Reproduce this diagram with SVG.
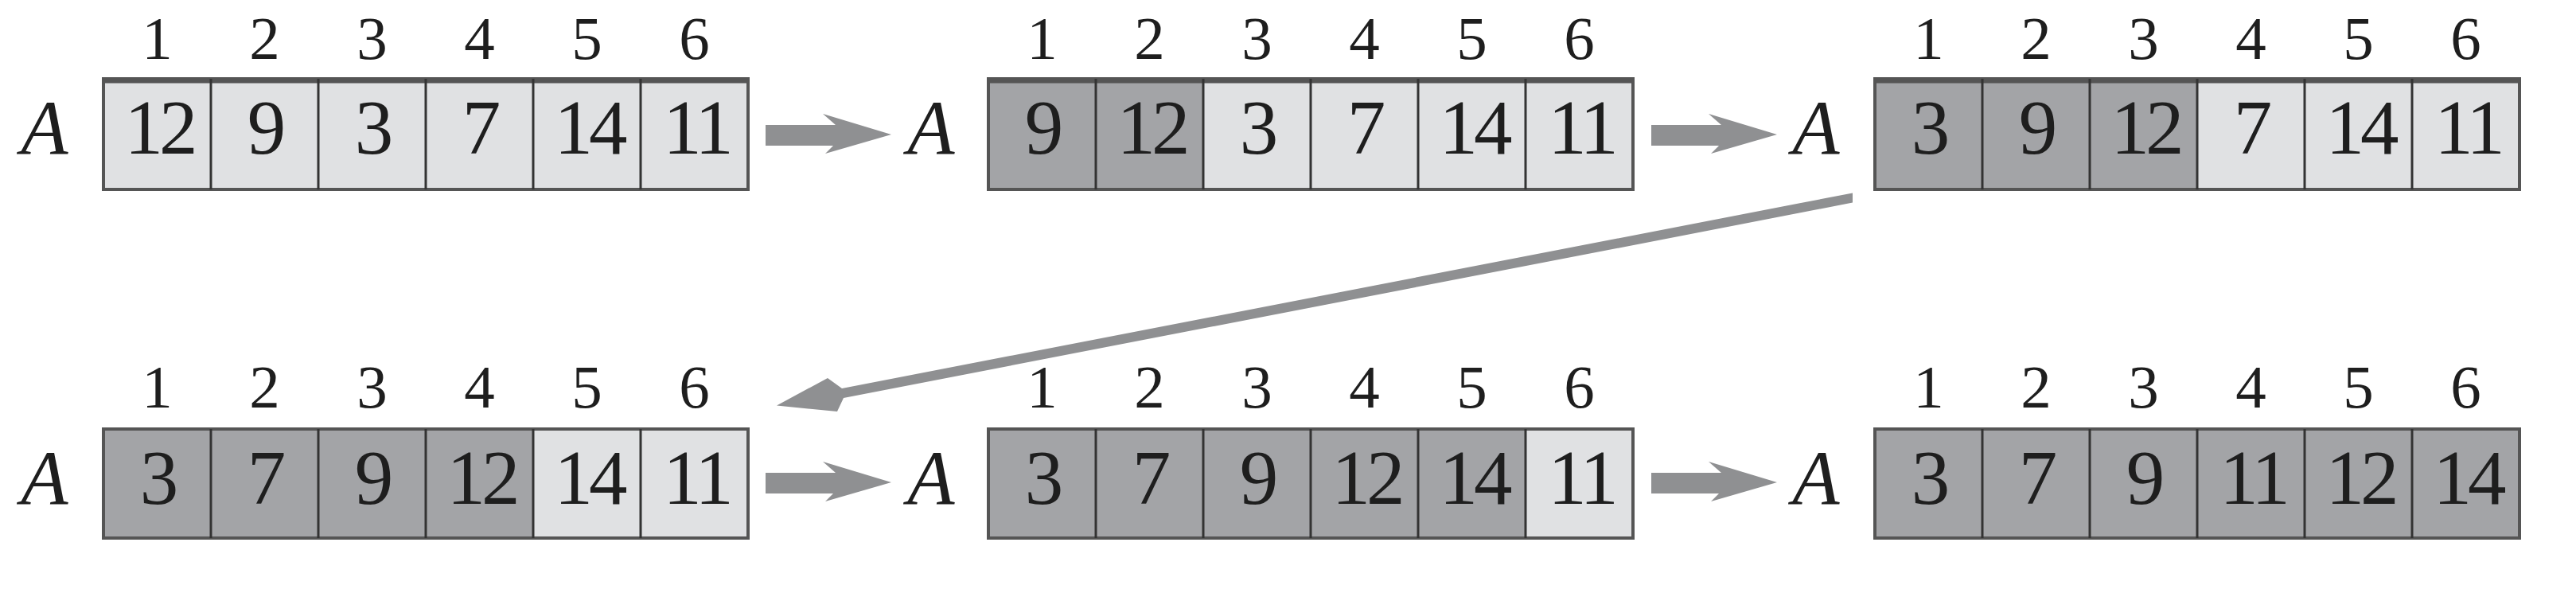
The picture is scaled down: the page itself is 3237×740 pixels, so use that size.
<svg xmlns="http://www.w3.org/2000/svg" width="3237" height="740" viewBox="0 0 3237 740">
<style>
.lt{fill:#e0e1e3}
.dk{fill:#a3a4a7}
.frame{fill:none;stroke:#555;stroke-width:4}
.div{stroke:#333;stroke-width:3}
.topb{stroke:#555;stroke-width:7}
.idx{font-size:77px;fill:#1e1e1e;text-anchor:middle}
.val{font-size:97px;fill:#1e1e1e;text-anchor:middle;letter-spacing:-5px}
.nm{font-size:97px;font-style:italic;fill:#1e1e1e;text-anchor:middle}
.arr{fill:#8f9092}
</style>
<defs>
<path id="harrow" class="arr" d="M0,-13 L88,-13 L72,-27 L158,-1 L75,23 L85,13 L0,13 Z"/>
</defs>
<rect width="3237" height="740" fill="#ffffff"/>
<g font-family="Liberation Serif, Times New Roman, serif">
<g id="array1">
<rect class="lt" x="130" y="99" width="810" height="139"/>
<rect class="frame" x="130" y="99" width="810" height="139"/>
<line class="topb" x1="130" y1="101" x2="940" y2="101"/>
<g class="div"><line x1="265" y1="99" x2="265" y2="238"/><line x1="400" y1="99" x2="400" y2="238"/><line x1="535" y1="99" x2="535" y2="238"/><line x1="670" y1="99" x2="670" y2="238"/><line x1="805" y1="99" x2="805" y2="238"/></g>
<text class="nm" x="56" y="193">A</text>
<text class="idx" x="197.5" y="74">1</text><text class="idx" x="332.5" y="74">2</text><text class="idx" x="467.5" y="74">3</text><text class="idx" x="602.5" y="74">4</text><text class="idx" x="737.5" y="74">5</text><text class="idx" x="872.5" y="74">6</text>
<text class="val" x="200" y="193">12</text><text class="val" x="332.5" y="193">9</text><text class="val" x="467.5" y="193">3</text><text class="val" x="602.5" y="193">7</text><text class="val" x="740" y="193">14</text><text class="val" x="875" y="193">11</text>
</g>

<g id="array2">
<rect class="lt" x="1242" y="99" width="810" height="139"/>
<rect class="dk" x="1242" y="99" width="270" height="139"/>
<rect class="frame" x="1242" y="99" width="810" height="139"/>
<line class="topb" x1="1242" y1="101" x2="2052" y2="101"/>
<g class="div"><line x1="1377" y1="99" x2="1377" y2="238"/><line x1="1512" y1="99" x2="1512" y2="238"/><line x1="1647" y1="99" x2="1647" y2="238"/><line x1="1782" y1="99" x2="1782" y2="238"/><line x1="1917" y1="99" x2="1917" y2="238"/></g>
<text class="nm" x="1170" y="193">A</text>
<text class="idx" x="1309.5" y="74">1</text><text class="idx" x="1444.5" y="74">2</text><text class="idx" x="1579.5" y="74">3</text><text class="idx" x="1714.5" y="74">4</text><text class="idx" x="1849.5" y="74">5</text><text class="idx" x="1984.5" y="74">6</text>
<text class="val" x="1309.5" y="193">9</text><text class="val" x="1447" y="193">12</text><text class="val" x="1579.5" y="193">3</text><text class="val" x="1714.5" y="193">7</text><text class="val" x="1852" y="193">14</text><text class="val" x="1987" y="193">11</text>
</g>

<g id="array3">
<rect class="lt" x="2356" y="99" width="810" height="139"/>
<rect class="dk" x="2356" y="99" width="405" height="139"/>
<rect class="frame" x="2356" y="99" width="810" height="139"/>
<line class="topb" x1="2356" y1="101" x2="3166" y2="101"/>
<g class="div"><line x1="2491" y1="99" x2="2491" y2="238"/><line x1="2626" y1="99" x2="2626" y2="238"/><line x1="2761" y1="99" x2="2761" y2="238"/><line x1="2896" y1="99" x2="2896" y2="238"/><line x1="3031" y1="99" x2="3031" y2="238"/></g>
<text class="nm" x="2282" y="193">A</text>
<text class="idx" x="2423.5" y="74">1</text><text class="idx" x="2558.5" y="74">2</text><text class="idx" x="2693.5" y="74">3</text><text class="idx" x="2828.5" y="74">4</text><text class="idx" x="2963.5" y="74">5</text><text class="idx" x="3098.5" y="74">6</text>
<text class="val" x="2423.5" y="193">3</text><text class="val" x="2558.5" y="193">9</text><text class="val" x="2696" y="193">12</text><text class="val" x="2828.5" y="193">7</text><text class="val" x="2966" y="193">14</text><text class="val" x="3101" y="193">11</text>
</g>

<g id="array4">
<rect class="lt" x="130" y="539" width="810" height="137"/>
<rect class="dk" x="130" y="539" width="540" height="137"/>
<rect class="frame" x="130" y="539" width="810" height="137"/>
<g class="div"><line x1="265" y1="539" x2="265" y2="676"/><line x1="400" y1="539" x2="400" y2="676"/><line x1="535" y1="539" x2="535" y2="676"/><line x1="670" y1="539" x2="670" y2="676"/><line x1="805" y1="539" x2="805" y2="676"/></g>
<text class="nm" x="56" y="633">A</text>
<text class="idx" x="197.5" y="512">1</text><text class="idx" x="332.5" y="512">2</text><text class="idx" x="467.5" y="512">3</text><text class="idx" x="602.5" y="512">4</text><text class="idx" x="737.5" y="512">5</text><text class="idx" x="872.5" y="512">6</text>
<text class="val" x="197.5" y="633">3</text><text class="val" x="332.5" y="633">7</text><text class="val" x="467.5" y="633">9</text><text class="val" x="605" y="633">12</text><text class="val" x="740" y="633">14</text><text class="val" x="875" y="633">11</text>
</g>

<g id="array5">
<rect class="lt" x="1242" y="539" width="810" height="137"/>
<rect class="dk" x="1242" y="539" width="675" height="137"/>
<rect class="frame" x="1242" y="539" width="810" height="137"/>
<g class="div"><line x1="1377" y1="539" x2="1377" y2="676"/><line x1="1512" y1="539" x2="1512" y2="676"/><line x1="1647" y1="539" x2="1647" y2="676"/><line x1="1782" y1="539" x2="1782" y2="676"/><line x1="1917" y1="539" x2="1917" y2="676"/></g>
<text class="nm" x="1170" y="633">A</text>
<text class="idx" x="1309.5" y="512">1</text><text class="idx" x="1444.5" y="512">2</text><text class="idx" x="1579.5" y="512">3</text><text class="idx" x="1714.5" y="512">4</text><text class="idx" x="1849.5" y="512">5</text><text class="idx" x="1984.5" y="512">6</text>
<text class="val" x="1309.5" y="633">3</text><text class="val" x="1444.5" y="633">7</text><text class="val" x="1579.5" y="633">9</text><text class="val" x="1717" y="633">12</text><text class="val" x="1852" y="633">14</text><text class="val" x="1987" y="633">11</text>
</g>

<g id="array6">
<rect class="dk" x="2356" y="539" width="810" height="137"/>
<rect class="frame" x="2356" y="539" width="810" height="137"/>
<g class="div"><line x1="2491" y1="539" x2="2491" y2="676"/><line x1="2626" y1="539" x2="2626" y2="676"/><line x1="2761" y1="539" x2="2761" y2="676"/><line x1="2896" y1="539" x2="2896" y2="676"/><line x1="3031" y1="539" x2="3031" y2="676"/></g>
<text class="nm" x="2282" y="633">A</text>
<text class="idx" x="2423.5" y="512">1</text><text class="idx" x="2558.5" y="512">2</text><text class="idx" x="2693.5" y="512">3</text><text class="idx" x="2828.5" y="512">4</text><text class="idx" x="2963.5" y="512">5</text><text class="idx" x="3098.5" y="512">6</text>
<text class="val" x="2423.5" y="633">3</text><text class="val" x="2558.5" y="633">7</text><text class="val" x="2693.5" y="633">9</text><text class="val" x="2831" y="633">11</text><text class="val" x="2966" y="633">12</text><text class="val" x="3101" y="633">14</text>
</g>
</g>
<g id="connectors">
<use href="#harrow" x="962" y="170"/>
<use href="#harrow" x="2075" y="170"/>
<use href="#harrow" x="962" y="607"/>
<use href="#harrow" x="2075" y="607"/>
<path class="arr" d="M2328,242.4 L1058,488 L1040,475 L976,509.5 L1052,517 L1060,500 L2328,254.6 Z"/>
</g>
</svg>
